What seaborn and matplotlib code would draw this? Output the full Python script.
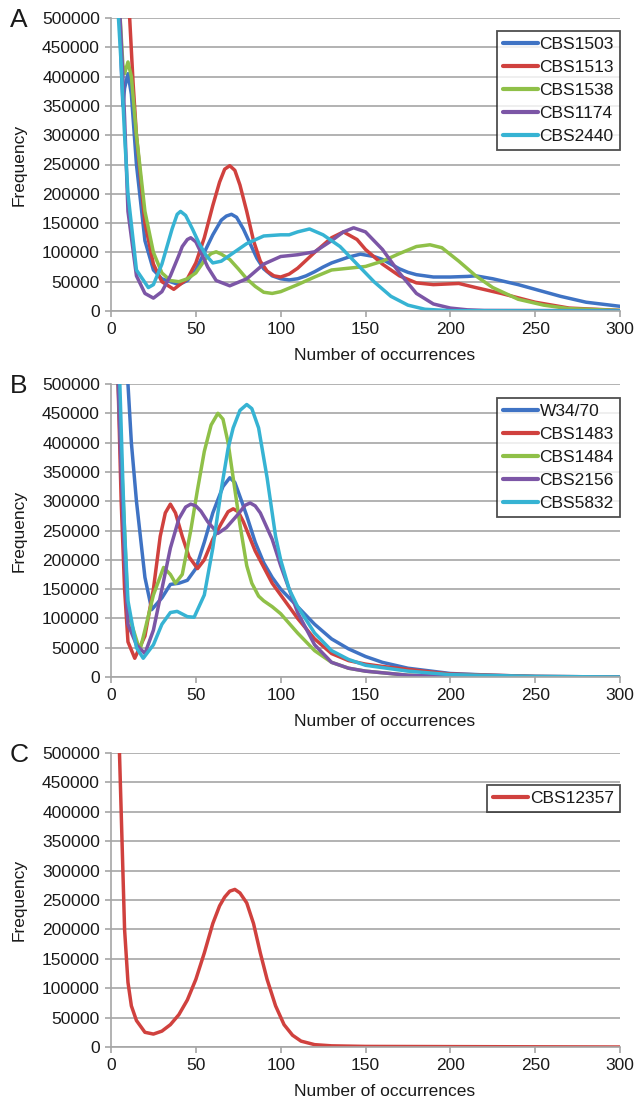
import matplotlib
matplotlib.use("Agg")
import matplotlib.pyplot as plt
import seaborn as sns

sns.set_theme(style="white")
plt.rcParams['font.family'] = ['Liberation Sans', 'DejaVu Sans']

# ---------------- Panel A data ----------------
a_cbs1503_x = [5, 6, 7, 8, 10, 12, 15, 20, 25, 30, 35, 40, 45, 50, 55, 60, 65, 68, 71, 74, 78, 82, 86, 90, 95, 100, 105, 110, 115, 120, 125, 130, 135, 140, 147, 155, 160, 165, 170, 175, 180, 190, 200, 210, 215, 225, 240, 250, 265, 280, 300]
a_cbs1503_y = [520000, 420000, 350000, 380000, 405000, 370000, 250000, 120000, 70000, 55000, 50000, 45000, 52000, 70000, 100000, 130000, 155000, 162000, 165000, 160000, 140000, 115000, 90000, 72000, 60000, 55000, 53000, 55000, 60000, 67000, 75000, 82000, 87000, 92000, 97000, 93000, 88000, 80000, 72000, 66000, 62000, 58000, 58000, 59000, 60000, 55000, 45000, 37000, 25000, 15000, 8000]

a_cbs1513_x = [9, 11, 13, 15, 20, 25, 30, 37, 45, 50, 55, 60, 64, 67, 70, 73, 76, 80, 84, 88, 92, 96, 100, 105, 110, 120, 130, 137, 145, 150, 160, 170, 180, 190, 205, 215, 230, 250, 270, 300]
a_cbs1513_y = [700000, 500000, 390000, 300000, 150000, 80000, 50000, 37000, 55000, 82000, 125000, 180000, 220000, 242000, 248000, 240000, 215000, 170000, 120000, 85000, 68000, 60000, 58000, 63000, 73000, 100000, 125000, 135000, 122000, 105000, 80000, 60000, 48000, 45000, 47000, 40000, 30000, 15000, 5000, 1000]

a_cbs1538_x = [5, 7, 8, 10, 12, 15, 20, 25, 30, 35, 40, 45, 50, 56, 59, 62, 65, 70, 75, 80, 85, 90, 95, 100, 110, 120, 130, 140, 150, 160, 170, 180, 188, 195, 205, 215, 225, 240, 255, 270, 300]
a_cbs1538_y = [520000, 420000, 405000, 425000, 400000, 300000, 170000, 100000, 65000, 52000, 50000, 55000, 65000, 90000, 98000, 101000, 97000, 88000, 72000, 55000, 42000, 32000, 30000, 33000, 45000, 58000, 70000, 73000, 76000, 85000, 98000, 110000, 113000, 108000, 85000, 60000, 40000, 20000, 10000, 4000, 1000]

a_cbs1174_x = [5, 7, 8, 10, 15, 20, 25, 30, 35, 40, 42, 45, 47, 50, 53, 57, 62, 70, 80, 90, 100, 110, 120, 130, 137, 143, 150, 160, 170, 180, 190, 200, 210, 220, 300]
a_cbs1174_y = [520000, 400000, 330000, 170000, 60000, 30000, 22000, 33000, 60000, 95000, 110000, 122000, 125000, 118000, 100000, 75000, 52000, 43000, 55000, 80000, 93000, 96000, 101000, 120000, 135000, 142000, 135000, 105000, 65000, 30000, 12000, 5000, 2000, 1000, 500]

a_cbs2440_x = [4, 6, 8, 10, 15, 22, 25, 30, 36, 39, 41, 44, 48, 52, 56, 60, 65, 70, 80, 90, 100, 105, 110, 117, 125, 135, 145, 155, 165, 175, 185, 200, 300]
a_cbs2440_y = [520000, 420000, 300000, 200000, 70000, 40000, 45000, 80000, 140000, 165000, 170000, 163000, 140000, 115000, 95000, 82000, 85000, 95000, 115000, 128000, 130000, 130000, 135000, 140000, 130000, 110000, 80000, 50000, 25000, 10000, 3000, 500, 0]

# ---------------- Panel B data ----------------
b_w3470_x = [9, 10, 12, 15, 20, 24, 30, 35, 40, 45, 50, 55, 60, 66, 70, 73, 77, 80, 85, 90, 95, 100, 110, 120, 130, 140, 150, 160, 175, 200, 225, 250, 300]
b_w3470_y = [600000, 500000, 400000, 300000, 170000, 115000, 135000, 158000, 160000, 165000, 185000, 230000, 280000, 325000, 340000, 332000, 300000, 275000, 230000, 195000, 170000, 150000, 120000, 90000, 65000, 48000, 35000, 25000, 15000, 6000, 3000, 1000, 0]

b_cbs1483_x = [4, 6, 8, 10, 14, 20, 25, 29, 32, 35, 38, 42, 46, 51, 55, 60, 65, 69, 72, 75, 78, 85, 95, 100, 110, 120, 130, 140, 150, 160, 175, 200, 250, 300]
b_cbs1483_y = [520000, 300000, 150000, 60000, 32000, 70000, 150000, 240000, 280000, 295000, 280000, 240000, 205000, 185000, 200000, 235000, 262000, 282000, 287000, 282000, 265000, 215000, 160000, 140000, 100000, 65000, 40000, 28000, 22000, 18000, 13000, 5000, 1000, 0]

b_cbs1484_x = [4, 6, 8, 10, 17, 20, 25, 31, 35, 38, 42, 47, 51, 55, 59, 63, 66, 69, 72, 76, 80, 83, 87, 90, 95, 100, 110, 120, 130, 140, 150, 175, 200, 300]
b_cbs1484_y = [520000, 380000, 250000, 110000, 45000, 80000, 140000, 187000, 175000, 160000, 175000, 250000, 320000, 385000, 430000, 450000, 440000, 400000, 340000, 260000, 190000, 160000, 138000, 130000, 120000, 108000, 75000, 45000, 25000, 15000, 10000, 3000, 1000, 0]

b_cbs2156_x = [4, 6, 8, 10, 15, 20, 25, 30, 35, 40, 44, 47, 50, 53, 57, 63, 68, 75, 79, 82, 85, 88, 95, 100, 110, 120, 130, 140, 150, 175, 200, 300]
b_cbs2156_y = [520000, 350000, 200000, 90000, 55000, 40000, 80000, 150000, 220000, 270000, 290000, 295000, 292000, 283000, 265000, 245000, 255000, 278000, 293000, 297000, 292000, 280000, 235000, 190000, 110000, 55000, 25000, 15000, 10000, 3000, 1000, 0]

b_cbs5832_x = [5, 7, 8, 10, 15, 19, 25, 30, 35, 39, 45, 49, 55, 60, 65, 69, 72, 76, 80, 83, 87, 92, 97, 100, 105, 110, 120, 130, 140, 150, 175, 200, 250, 300]
b_cbs5832_y = [520000, 330000, 250000, 130000, 50000, 32000, 55000, 90000, 110000, 112000, 103000, 102000, 140000, 220000, 320000, 390000, 425000, 455000, 465000, 458000, 425000, 340000, 240000, 200000, 150000, 120000, 75000, 45000, 30000, 20000, 10000, 4000, 1000, 0]

# ---------------- Panel C data ----------------
c_cbs12357_x = [5, 7, 8, 10, 12, 15, 20, 25, 30, 35, 40, 45, 50, 55, 60, 64, 67, 70, 73, 76, 80, 84, 88, 92, 97, 102, 107, 112, 120, 130, 150, 300]
c_cbs12357_y = [500000, 300000, 200000, 110000, 70000, 45000, 25000, 22000, 27000, 38000, 55000, 80000, 115000, 160000, 210000, 240000, 255000, 265000, 268000, 262000, 245000, 210000, 160000, 115000, 70000, 38000, 20000, 10000, 4000, 2000, 1000, 0]

BLUE = "#3f73c4"
RED = "#d0413e"
GREEN = "#8fc048"
PURPLE = "#7c56a6"
CYAN = "#36b3d3"

panels = [
    ("A", [("CBS1503", a_cbs1503_x, a_cbs1503_y, BLUE),
           ("CBS1513", a_cbs1513_x, a_cbs1513_y, RED),
           ("CBS1538", a_cbs1538_x, a_cbs1538_y, GREEN),
           ("CBS1174", a_cbs1174_x, a_cbs1174_y, PURPLE),
           ("CBS2440", a_cbs2440_x, a_cbs2440_y, CYAN)], 18, 311, 0.956),
    ("B", [("W34/70", b_w3470_x, b_w3470_y, BLUE),
           ("CBS1483", b_cbs1483_x, b_cbs1483_y, RED),
           ("CBS1484", b_cbs1484_x, b_cbs1484_y, GREEN),
           ("CBS2156", b_cbs2156_x, b_cbs2156_y, PURPLE),
           ("CBS5832", b_cbs5832_x, b_cbs5832_y, CYAN)], 384, 677, 0.952),
    ("C", [("CBS12357", c_cbs12357_x, c_cbs12357_y, RED)], 753, 1047, 0.891),
]

W, H = 635, 1105
fig = plt.figure(figsize=(W / 100, H / 100), dpi=100)
fig.patch.set_facecolor("white")

GRID = "#a6a6a6"
FS = 12.5

for letter, series, top, bottom, legy in panels:
    left, right = 111, 620
    ax = fig.add_axes([left / W, 1 - bottom / H, (right - left) / W, (bottom - top) / H])
    for name, xs, ys, col in series:
        sns.lineplot(x=xs, y=ys, ax=ax, color=col, lw=2.5, label=name,
                     estimator=None, sort=False)
    for ln in ax.get_lines():
        ln.set_solid_joinstyle("round")
    ax.set_xlim(0, 300)
    ax.set_ylim(0, 500000)
    ax.set_xticks(range(0, 301, 50))
    ax.set_yticks(range(0, 500001, 50000))
    ax.set_yticklabels([str(v) for v in range(0, 500001, 50000)])
    ax.yaxis.grid(True, color=GRID, lw=1.2)
    ax.xaxis.grid(False)
    ax.set_axisbelow(True)
    for s in ["top", "right"]:
        ax.spines[s].set_visible(False)
    for s in ["left", "bottom"]:
        ax.spines[s].set_color(GRID)
        ax.spines[s].set_linewidth(1.2)
    ax.tick_params(axis="both", which="major", direction="out", length=4,
                   width=1.2, color=GRID, labelsize=FS, labelcolor="#1a1a1a", pad=4,
                   left=True, bottom=True)
    ax.set_xlabel("Number of occurrences", fontsize=FS, color="#1a1a1a")
    ax.xaxis.set_label_coords((385 - left) / (right - left), -0.125)
    ax.set_ylabel("Frequency", fontsize=FS, color="#1a1a1a")
    ax.yaxis.set_label_coords(-0.165, 0.5)
    leg = ax.legend(loc="upper right", bbox_to_anchor=(1.0, legy), frameon=True,
                    fancybox=False, fontsize=FS, handlelength=2.0, handletextpad=0.1,
                    borderpad=0.35, labelspacing=0.45, borderaxespad=0)
    leg.get_frame().set_edgecolor("#222222")
    leg.get_frame().set_linewidth(1.3)
    for t in leg.get_texts():
        t.set_color("#1a1a1a")
    for lh in leg.get_lines():
        lh.set_linewidth(3)
    fig.text(10 / W, 1 - (top + 2) / H, letter, fontsize=19, color="#1a1a1a",
             ha="left", va="center")

fig.savefig("out.png", dpi=100, facecolor="white")
